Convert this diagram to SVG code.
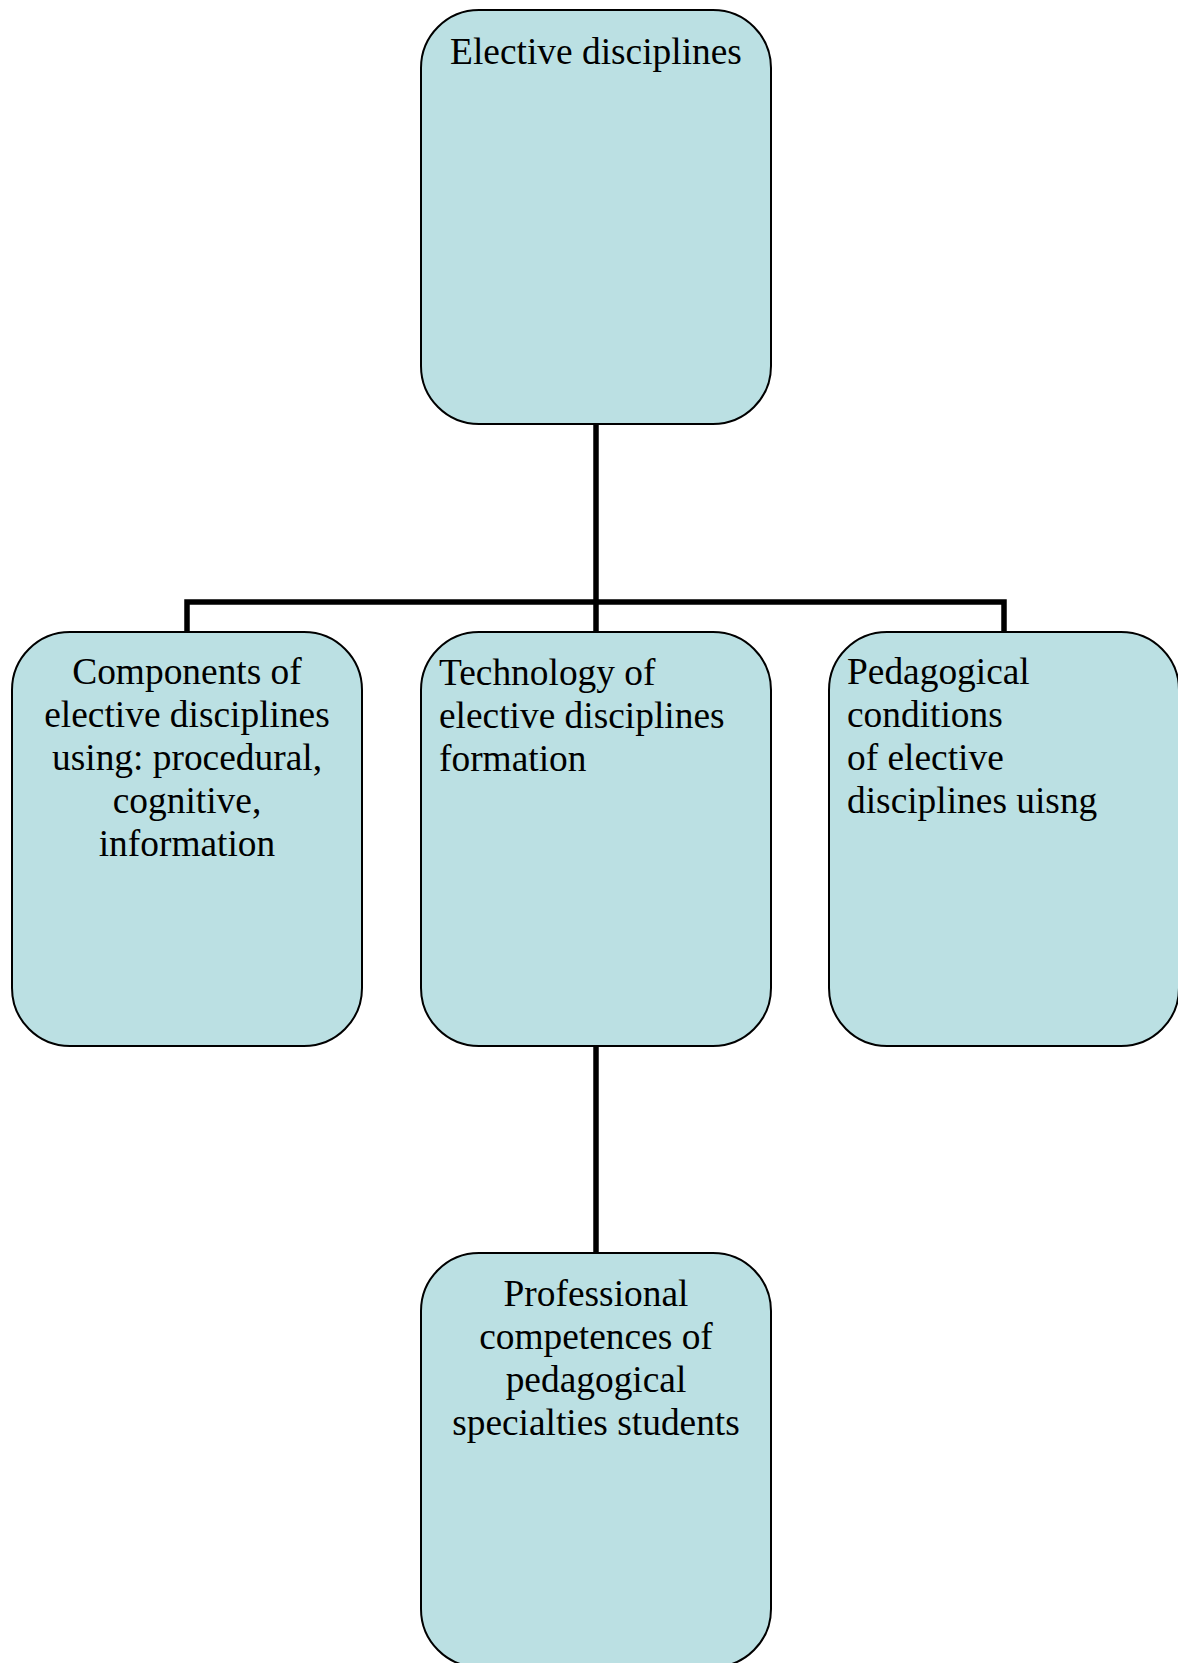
<svg xmlns="http://www.w3.org/2000/svg" width="1178" height="1663" viewBox="0 0 1178 1663">
<style>
.box{fill:#bbe0e3;stroke:#000;stroke-width:2}
.conn{fill:none;stroke:#000;stroke-width:5.5;stroke-linecap:butt;stroke-linejoin:miter}
text{font-family:"Liberation Serif","Times New Roman",serif;font-size:37.4px;fill:#000}
.c{text-anchor:middle}
</style>
<rect width="1178" height="1663" fill="#fff"/>
<g id="connectors">
<path class="conn" d="M596,424 V631"/>
<path class="conn" d="M187,631 V602 H1004 V631"/>
<path class="conn" d="M596,1046 V1253"/>
</g>
<g id="elective">
<rect class="box" x="421" y="10" width="350" height="414" rx="58" ry="58"/>
<text class="c" x="596" y="64">Elective disciplines</text>
</g>
<g id="components">
<rect class="box" x="12" y="632" width="350" height="414" rx="58" ry="58"/>
<text class="c" x="187" y="684">Components of</text>
<text class="c" x="187" y="727">elective disciplines</text>
<text class="c" x="187" y="770">using: procedural,</text>
<text class="c" x="187" y="813">cognitive,</text>
<text class="c" x="187" y="856">information</text>
</g>
<g id="technology">
<rect class="box" x="421" y="632" width="350" height="414" rx="58" ry="58"/>
<text x="439" y="685">Technology of</text>
<text x="439" y="728">elective disciplines</text>
<text x="439" y="771">formation</text>
</g>
<g id="conditions">
<rect class="box" x="829" y="632" width="350" height="414" rx="58" ry="58"/>
<text x="847" y="684">Pedagogical</text>
<text x="847" y="727">conditions</text>
<text x="847" y="770">of elective</text>
<text x="847" y="813">disciplines uisng</text>
</g>
<g id="competences">
<rect class="box" x="421" y="1253" width="350" height="414" rx="58" ry="58"/>
<text class="c" x="596" y="1306">Professional</text>
<text class="c" x="596" y="1349">competences of</text>
<text class="c" x="596" y="1392">pedagogical</text>
<text class="c" x="596" y="1435">specialties students</text>
</g>
</svg>
